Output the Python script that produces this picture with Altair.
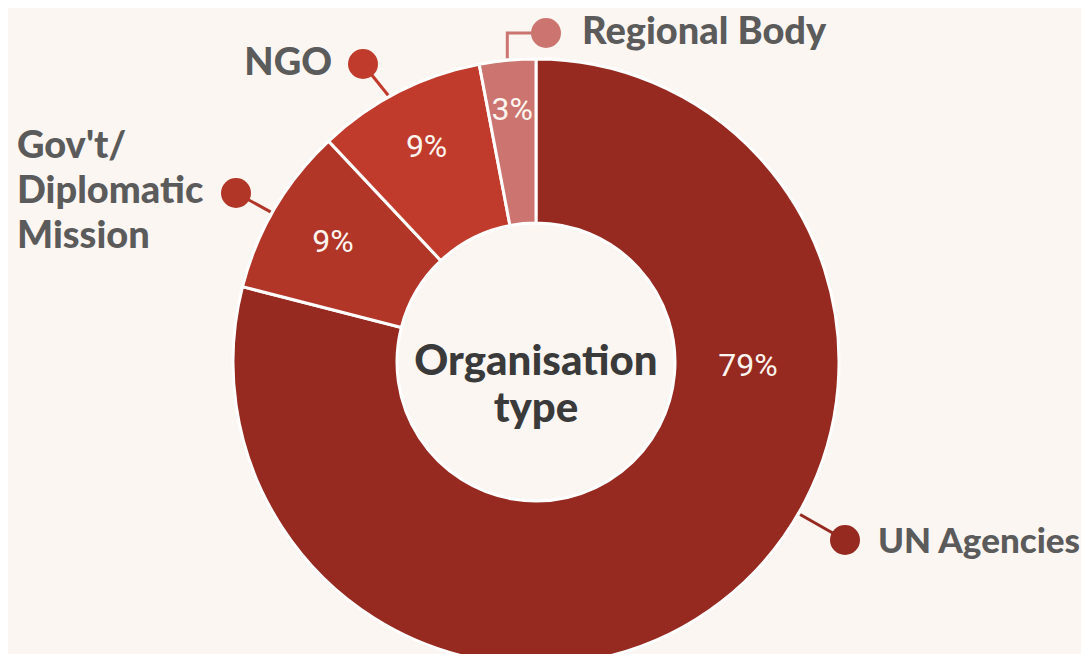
import math
import altair as alt
import pandas as pd

# ---- data ----
categories = ["UN Agencies", "Gov't/\nDiplomatic\nMission", "NGO", "Regional Body"]
values = [79, 9, 9, 3]
pct_labels = ["79%", "9%", "9%", "3%"]
colors = ["#962a20", "#b23628", "#c03b2b", "#cc7570"]

# ---- layout (pixels) ----
W, H = 1073, 646
CX, CY = 528, 354
R_IN, R_OUT = 139, 303
BG = "#fbf6f2"
LABEL_FONT = "Lato"
PCT_FONT = "Roboto"

# per-slice percent-label placement: (angle override or None, radius)
pct_place = [(91, 212), (None, 236), (None, 241), (None, 253)]
# callouts: anchor angle on rim, dot offset from centre, label offset, side, font size
callouts = [
    dict(anchor=120, dot=(309, 178), elbow=None, text=(342, 180), side="left", fs=35),
    dict(anchor=299.5, dot=(-300, -169), elbow=None, text=(-519, -215), side="left", fs=38),
    dict(anchor=331, dot=(-173, -298), elbow=None, text=(-204, -298), side="right", fs=38),
    dict(anchor=354.6, dot=(10, -329), elbow="vertical", text=(46, -329), side="left", fs=38),
]

total = sum(values)
rows, pct_rows, dot_rows, line_rows, txt_rows = [], [], [], [], []
cum = 0
for i, (c, v) in enumerate(zip(categories, values)):
    mid = (cum + v / 2) / total * 360
    cum += v
    rows.append(dict(cat=c, value=v, order=i))
    ang, rad = pct_place[i]
    a = math.radians(ang if ang is not None else mid)
    pct_rows.append(dict(cat=c, label=pct_labels[i],
                         x=CX + rad * math.sin(a), y=CY - rad * math.cos(a)))
    co = callouts[i]
    aa = math.radians(co["anchor"])
    ax, ay = CX + (R_OUT + 2) * math.sin(aa), CY - (R_OUT + 2) * math.cos(aa)
    dx, dy = CX + co["dot"][0], CY + co["dot"][1]
    pts = [(ax, ay)]
    if co["elbow"] == "vertical":
        pts.append((ax, dy))
    pts.append((dx, dy))
    for j, (px, py) in enumerate(pts):
        line_rows.append(dict(cat=c, seq=j, x=px, y=py))
    dot_rows.append(dict(cat=c, x=dx, y=dy))
    txt_rows.append(dict(cat=c, label=c, x=CX + co["text"][0], y=CY + co["text"][1],
                         side=co["side"], fs=co["fs"]))

df = pd.DataFrame(rows)
color = alt.Color("cat:N", scale=alt.Scale(domain=categories, range=colors), legend=None)
xs = alt.X("x:Q", scale=alt.Scale(domain=[0, W], range=[0, W], nice=False, zero=False), axis=None)
ys = alt.Y("y:Q", scale=alt.Scale(domain=[0, H], range=[0, H], nice=False, zero=False), axis=None)

arcs = alt.Chart(df).mark_arc(innerRadius=R_IN, outerRadius=R_OUT, stroke="white",
                              strokeWidth=3).encode(
    theta=alt.Theta("value:Q", stack=True),
    order=alt.Order("order:O"),
    color=color,
    x=alt.value(CX), y=alt.value(CY),
)

pct = alt.Chart(pd.DataFrame(pct_rows)).mark_text(
    font=PCT_FONT, fontSize=32, fontWeight="normal", color="#fdf5f0",
    baseline="middle", align="center"
).encode(x=xs, y=ys, text="label:N")

lines = alt.Chart(pd.DataFrame(line_rows)).mark_line(strokeWidth=3).encode(
    x=xs, y=ys, color=color, detail="cat:N", order="seq:Q")

dots = alt.Chart(pd.DataFrame(dot_rows)).mark_point(
    filled=True, size=900, opacity=1, shape="circle").encode(x=xs, y=ys, color=color)

tdf = pd.DataFrame(txt_rows)
txt_left = alt.Chart(tdf[tdf["side"] == "left"]).mark_text(
    font=LABEL_FONT, fontWeight=900, color="#5b5b5b",
    align="left", baseline="middle", lineBreak="\n", lineHeight=45
).encode(x=xs, y=ys, text="label:N", size=alt.Size("fs:Q", scale=None, legend=None))
txt_right = alt.Chart(tdf[tdf["side"] == "right"]).mark_text(
    font=LABEL_FONT, fontWeight=900, color="#5b5b5b",
    align="right", baseline="middle", lineBreak="\n", lineHeight=45
).encode(x=xs, y=ys, text="label:N", size=alt.Size("fs:Q", scale=None, legend=None))

center = alt.Chart(pd.DataFrame({"t": ["Organisation\ntype"]})).mark_text(
    font=LABEL_FONT, fontWeight=900, fontSize=42, color="#3a3a3a",
    align="center", baseline="alphabetic", lineBreak="\n", lineHeight=47
).encode(x=alt.value(CX), y=alt.value(CY + 13), text="t:N")

chart = alt.layer(arcs, lines, dots, pct, txt_left, txt_right, center).properties(
    width=W, height=H, background=BG, padding=0,
    autosize=alt.AutoSizeParams(type="none"),
).configure_view(stroke=None)

chart.save("out.html", embed_options={"renderer": "svg", "actions": False})
